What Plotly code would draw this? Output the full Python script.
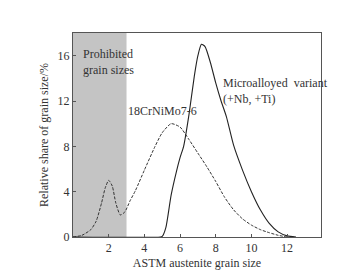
import plotly.graph_objects as go

# 18CrNiMo7-6 (dashed)
x_ref = [0, 0.5, 1.0, 1.3, 1.6, 1.8, 2.0, 2.2, 2.4, 2.65, 2.9, 3.2, 3.5, 4.0, 4.6, 5.0, 5.5, 6.0, 6.5, 7.0, 7.5, 8.0, 8.5, 9.0, 9.5, 10.0, 10.5, 11.0, 11.5, 12.0]
y_ref = [0, 0.15, 0.65, 1.4, 3.0, 4.3, 5.0, 4.5, 3.0, 1.95, 2.2, 3.2, 4.1, 5.9, 8.0, 9.2, 10.0, 9.7, 8.6, 7.4, 6.2, 4.9, 3.5, 2.4, 1.6, 1.05, 0.65, 0.38, 0.15, 0.0]

# Microalloyed variant (solid)
x_micro = [0, 4.9, 5.0, 5.2, 5.5, 5.8, 6.0, 6.2, 6.5, 6.8, 7.0, 7.2, 7.4, 7.7, 8.0, 8.3, 8.6, 9.0, 9.5, 10.0, 10.5, 11.0, 11.5, 12.0, 12.5]
y_micro = [0, 0, 0.05, 0.8, 3.7, 5.8, 7.0, 8.0, 10.8, 14.2, 16.0, 17.0, 16.8, 15.4, 13.6, 12.0, 10.6, 8.1, 5.9, 4.0, 2.4, 1.2, 0.45, 0.1, 0]

x_ticks = [2, 4, 6, 8, 10, 12]
y_ticks = [0, 4, 8, 12, 16]
prohibited = [0, 3]

font = "Liberation Serif"
fc = "#333333"

fig = go.Figure()
fig.add_vrect(x0=prohibited[0], x1=prohibited[1], fillcolor="#c4c4c4", opacity=1, line_width=0, layer="below")
fig.add_trace(go.Scatter(x=x_ref, y=y_ref, mode="lines", line=dict(color="#333", width=1, dash="3px,1.5px", shape="spline", smoothing=0.6), showlegend=False))
fig.add_trace(go.Scatter(x=x_micro, y=y_micro, mode="lines", line=dict(color="#222", width=1.1, shape="spline", smoothing=0.6), showlegend=False))

fig.add_annotation(x=0.45, y=16.9, text="Prohibited<br>grain sizes", showarrow=False, xanchor="left", yanchor="top", align="left", font=dict(size=12, color=fc, family=font))
fig.add_annotation(x=2.95, y=10.3, text="18CrNiMo7-6", showarrow=False, xanchor="left", yanchor="bottom", font=dict(size=12, color=fc, family=font))
fig.add_annotation(x=8.3, y=14.4, text="Microalloyed&nbsp;&nbsp;variant<br>(+Nb, +Ti)", showarrow=False, xanchor="left", yanchor="top", align="left", font=dict(size=12, color=fc, family=font))

axis_common = dict(showgrid=False, zeroline=False, showline=True, mirror=True, linecolor="#555", linewidth=1, automargin=False,
                   ticks="inside", ticklen=3, tickcolor="#555", tickfont=dict(size=12, color=fc, family=font))
fig.update_xaxes(range=[0, 13.9], tickvals=x_ticks, title=dict(text="ASTM austenite grain size", font=dict(size=12, color=fc, family=font), standoff=4), **axis_common)
fig.update_yaxes(range=[0, 18], tickvals=y_ticks, title=dict(text="Relative share of grain size/%", font=dict(size=12, color=fc, family=font), standoff=6), **axis_common)

fig.update_layout(width=347, height=270, margin=dict(l=65, r=34, t=25, b=41, autoexpand=False),
                  plot_bgcolor="white", paper_bgcolor="white", font=dict(family=font))
fig.write_html("out.html")
